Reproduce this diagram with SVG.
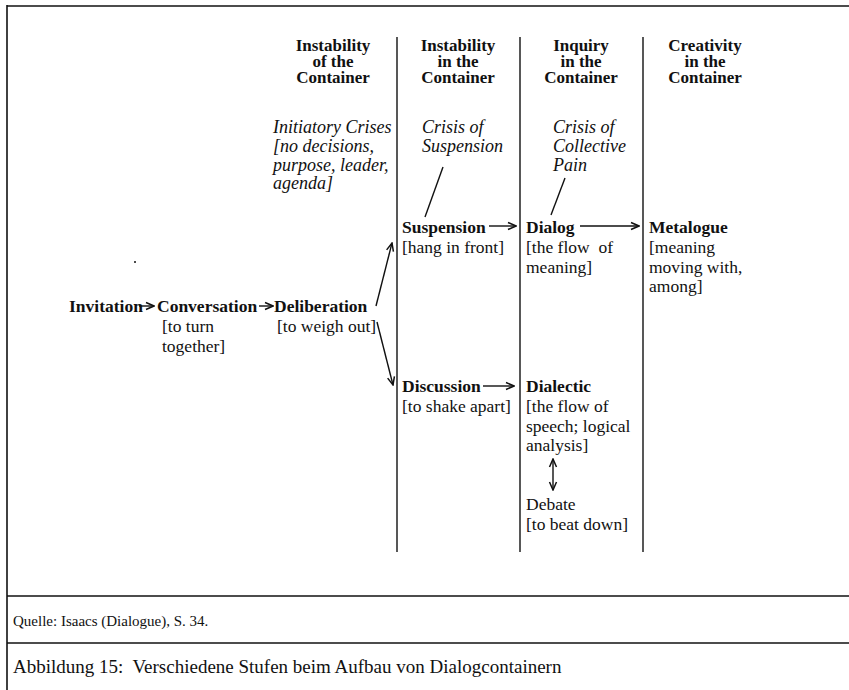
<svg xmlns="http://www.w3.org/2000/svg" width="849" height="690" viewBox="0 0 849 690">
<style>
text{font-family:"Liberation Serif","Times New Roman",serif;fill:#111}
.h{font-size:17px;font-weight:bold;text-anchor:middle}
.b{font-size:17.5px;font-weight:bold}
.r{font-size:17.5px}
.i{font-size:18px;font-style:italic}
.frame{stroke:#111;stroke-width:1.6;fill:none}
.col{stroke:#111;stroke-width:1.4;fill:none}
.c{stroke:#111;stroke-width:1.4;fill:none}
</style>
<defs>
<marker id="ah" markerUnits="userSpaceOnUse" markerWidth="10" markerHeight="10" viewBox="0 0 10 10" refX="9" refY="5" orient="auto-start-reverse">
<path d="M1,1.5 L9,5 L1,8.5" fill="none" stroke="#111" stroke-width="1.5"/>
</marker>
</defs>
<g id="frame">
<line class="frame" x1="7" y1="6" x2="849" y2="6" stroke-width="2"/>
<line class="frame" x1="7" y1="5" x2="7" y2="690"/>
<line class="frame" x1="7" y1="596" x2="849" y2="596"/>
<line class="frame" x1="7" y1="643" x2="849" y2="643"/>
<line class="col" x1="397" y1="37" x2="397" y2="552"/>
<line class="col" x1="520" y1="37" x2="520" y2="552"/>
<line class="col" x1="643" y1="37" x2="643" y2="552"/>
<circle cx="135" cy="262" r="1" fill="#111"/>
</g>
<g id="header-instability-of">
<text class="h" x="333" y="51">Instability</text>
<text class="h" x="333" y="67">of the</text>
<text class="h" x="333" y="83">Container</text>
</g>
<g id="header-instability-in">
<text class="h" x="458" y="51">Instability</text>
<text class="h" x="458" y="67">in the</text>
<text class="h" x="458" y="83">Container</text>
</g>
<g id="header-inquiry">
<text class="h" x="581" y="51">Inquiry</text>
<text class="h" x="581" y="67">in the</text>
<text class="h" x="581" y="83">Container</text>
</g>
<g id="header-creativity">
<text class="h" x="705" y="51">Creativity</text>
<text class="h" x="705" y="67">in the</text>
<text class="h" x="705" y="83">Container</text>
</g>
<g id="initiatory-crises">
<text class="i" x="273" y="133">Initiatory Crises</text>
<text class="i" x="273" y="152">[no decisions,</text>
<text class="i" x="273" y="171">purpose, leader,</text>
<text class="i" x="273" y="189">agenda]</text>
</g>
<g id="crisis-suspension">
<text class="i" x="422" y="133">Crisis of</text>
<text class="i" x="422" y="152">Suspension</text>
</g>
<g id="crisis-pain">
<text class="i" x="553" y="133">Crisis of</text>
<text class="i" x="553" y="152">Collective</text>
<text class="i" x="553" y="171">Pain</text>
</g>
<g id="invitation">
<text class="b" x="69" y="312">Invitation</text>
</g>
<g id="conversation">
<text class="b" x="157" y="312">Conversation</text>
<text class="r" x="162" y="332">[to turn</text>
<text class="r" x="162" y="352">together]</text>
</g>
<g id="deliberation">
<text class="b" x="274" y="312">Deliberation</text>
<text class="r" x="277" y="332">[to weigh out]</text>
</g>
<g id="suspension">
<text class="b" x="402" y="233">Suspension</text>
<text class="r" x="402" y="253">[hang in front]</text>
</g>
<g id="discussion">
<text class="b" x="402" y="392">Discussion</text>
<text class="r" x="402" y="412">[to shake apart]</text>
</g>
<g id="dialog">
<text class="b" x="526" y="233">Dialog</text>
<text class="r" x="526" y="253" xml:space="preserve">[the flow  of</text>
<text class="r" x="526" y="273">meaning]</text>
</g>
<g id="metalogue">
<text class="b" x="649" y="233">Metalogue</text>
<text class="r" x="649" y="253">[meaning</text>
<text class="r" x="649" y="273">moving with,</text>
<text class="r" x="649" y="292">among]</text>
</g>
<g id="dialectic">
<text class="b" x="526" y="392">Dialectic</text>
<text class="r" x="526" y="412">[the flow of</text>
<text class="r" x="526" y="432">speech; logical</text>
<text class="r" x="526" y="451">analysis]</text>
</g>
<g id="debate">
<text class="r" x="526" y="510">Debate</text>
<text class="r" x="526" y="530">[to beat down]</text>
</g>
<g id="source">
<text x="13" y="626" style="font-size:15px">Quelle: Isaacs (Dialogue), S. 34.</text>
</g>
<g id="caption">
<text x="13" y="673" style="font-size:19px" xml:space="preserve">Abbildung 15:  Verschiedene Stufen beim Aufbau von Dialogcontainern</text>
</g>
<g id="connectors">
<line class="c" x1="139" y1="306" x2="154" y2="306" marker-end="url(#ah)"/>
<line class="c" x1="259" y1="306" x2="273" y2="306" marker-end="url(#ah)"/>
<line class="c" x1="376" y1="306" x2="392" y2="243" marker-end="url(#ah)"/>
<line class="c" x1="377" y1="322" x2="393" y2="385" marker-end="url(#ah)"/>
<line class="c" x1="489" y1="226" x2="516" y2="226" marker-end="url(#ah)"/>
<line class="c" x1="580" y1="226" x2="639" y2="226" marker-end="url(#ah)"/>
<line class="c" x1="483" y1="386" x2="514" y2="386" marker-end="url(#ah)"/>
<line class="c" x1="553" y1="459" x2="553" y2="490" marker-start="url(#ah)" marker-end="url(#ah)"/>
<line class="c" x1="443" y1="167" x2="425" y2="217"/>
<line class="c" x1="565" y1="178" x2="551" y2="215"/>
</g>
</svg>
